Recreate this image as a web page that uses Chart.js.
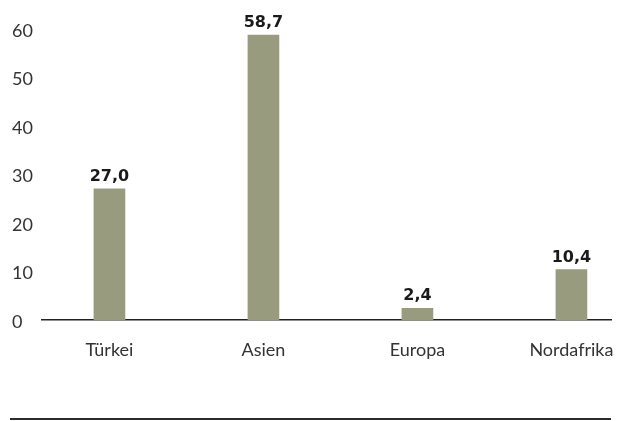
<!DOCTYPE html>
<html>
<head>
<meta charset="utf-8">
<script src="https://cdn.jsdelivr.net/npm/chart.js@4/dist/chart.umd.min.js"></script>
<style>
  html, body { margin: 0; padding: 0; background: #fff; }
  #wrap { position: relative; width: 621px; height: 421px; }
  #rule { position: absolute; left: 10px; top: 418px; width: 601px; height: 2px; background: #2b2b2b; }
</style>
</head>
<body>
<div id="wrap">
  <canvas id="c" width="621" height="421"></canvas>
  <div id="rule"></div>
</div>
<script>
const categories = ["Türkei", "Asien", "Europa", "Nordafrika"];
const values = [27.0, 58.7, 2.4, 10.4];
const yTicks = [0, 10, 20, 30, 40, 50, 60];

const barColor = "#989b7d";

const valueLabels = {
  id: "valueLabels",
  afterDatasetsDraw(chart) {
    const ctx = chart.ctx;
    const meta = chart.getDatasetMeta(0);
    ctx.save();
    ctx.font = "bold 16px 'DejaVu Sans'";
    ctx.fillStyle = "#1a1a1a";
    ctx.textAlign = "center";
    ctx.textBaseline = "alphabetic";
    meta.data.forEach((bar, i) => {
      const txt = values[i].toFixed(1).replace(".", ",");
      ctx.fillText(txt, bar.x, bar.y - 8);
    });
    ctx.restore();
  }
};

new Chart(document.getElementById("c"), {
  type: "bar",
  data: {
    datasets: [{
      data: values.map((v, i) => ({ x: i, y: v })),
      backgroundColor: barColor,
      borderWidth: 0,
      barThickness: 31
    }]
  },
  options: {
    responsive: false,
    animation: false,
    layout: { padding: { left: 12, right: 10, top: 19, bottom: 0 } },
    plugins: { legend: { display: false }, tooltip: { enabled: false } },
    scales: {
      x: {
        type: "linear",
        offset: false,
        min: -0.438,
        max: 3.257,
        grid: { display: false, drawTicks: false },
        border: { display: true, color: "#222", width: 1.5 },
        afterBuildTicks(scale) { scale.ticks = categories.map((c, i) => ({ value: i })); },
        afterFit(scale) {
          scale.height = 101;
          scale.paddingLeft = 0;
          scale.paddingRight = 0;
        },
        ticks: {
          padding: 19,
          autoSkip: false,
          maxRotation: 0,
          color: "#333",
          font: { family: "Lato", size: 18 },
          callback: (v) => categories[v]
        }
      },
      y: {
        min: 0,
        max: 62,
        grid: { display: false, drawTicks: false },
        border: { display: false },
        afterBuildTicks(scale) { scale.ticks = yTicks.map(v => ({ value: v })); },
        afterFit(scale) {
          scale.width = 30;
          scale.paddingTop = 0;
          scale.paddingBottom = 0;
        },
        ticks: {
          padding: 0,
          crossAlign: "far",
          labelOffset: 2,
          color: "#333",
          font: { family: "Lato", size: 18 }
        }
      }
    }
  },
  plugins: [valueLabels]
});
</script>
</body>
</html>
